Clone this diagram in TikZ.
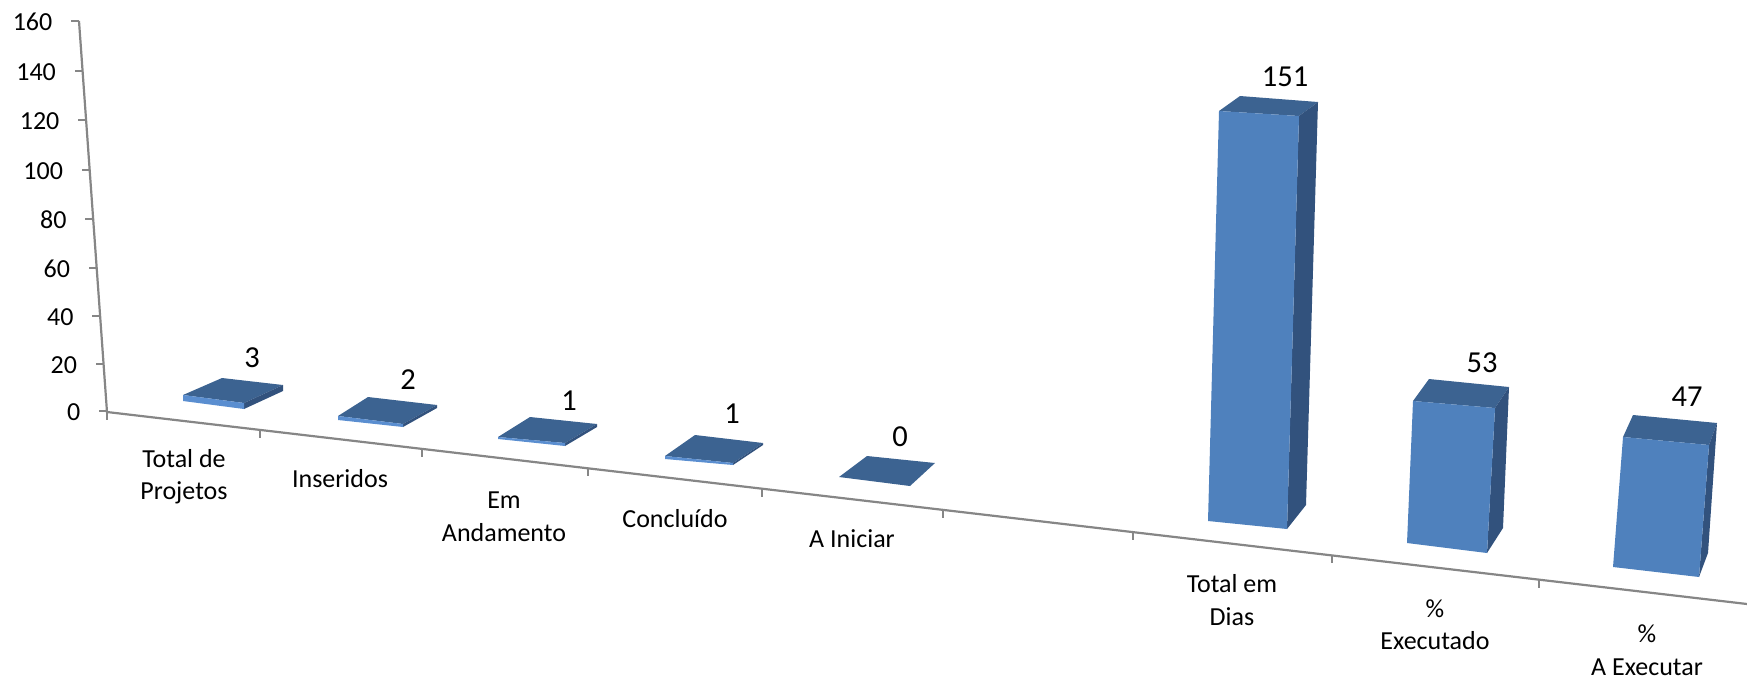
\documentclass[tikz,border=0pt]{standalone}
\usepackage{fontspec}
\setmainfont{Carlito}
\definecolor{frontc}{HTML}{4F81BD}
\definecolor{topc}{HTML}{3C6391}
\definecolor{sidec}{HTML}{32527D}
\definecolor{edgec}{HTML}{5A8ED0}
\definecolor{axisc}{HTML}{868686}
\newcommand{\barbox}[7]{%
  \fill[topc] #1 -- #5 -- #6 -- #2 -- cycle;
  \fill[sidec] #2 -- #6 -- #7 -- #3 -- cycle;
  \fill[frontc] #1 -- #2 -- #3 -- #4 -- cycle;}
\newcommand{\slabbox}[7]{%
  \fill[topc] #1 -- #5 -- #6 -- #2 -- cycle;
  \fill[sidec] #2 -- #6 -- #7 -- #3 -- cycle;
  \fill[edgec] #1 -- #2 -- #3 -- #4 -- cycle;}
\tikzset{
  axisline/.style={draw=axisc, line width=2.2pt},
  tickline/.style={draw=axisc, line width=1.6pt},
  catlab/.style={font=\fontsize{26}{31.7}\selectfont, anchor=base, inner sep=0pt},
  ylab/.style={font=\fontsize{26}{31.7}\selectfont, anchor=base east, inner sep=0pt},
  datalab/.style={font=\fontsize{30.5}{36}\selectfont, anchor=base, inner sep=0pt}
}
\begin{document}
\begin{tikzpicture}[x=1pt,y=-1pt]
\useasboundingbox (0,0) rectangle (1747,678);
% axes
\coordinate (ytop) at (79,21);
\coordinate (orig) at (107,412);
\coordinate (xend) at (1747,604);
\draw[axisline] (ytop) -- (orig) -- (xend);
% y ticks and labels
\foreach \v/\yy in {0/411,20/364,40/316,60/268,80/219,100/170,120/120,140/71,160/21}{
  \pgfmathsetmacro{\ax}{107-(411-\yy)*28/390}
  \coordinate (yt\v) at (\ax,\yy);
  \draw[tickline] (yt\v) -- ++(-8,0);
  \node[ylab] (yl\v) at ({\ax-26.5},{\yy+9.5}) {\v};
}
% x ticks
\foreach \xx [count=\i] in {107,260,422,588,762,943,1133,1332,1539}{
  \coordinate (xt\i) at (\xx,{412+(\xx-107)*0.11707});
  \draw[tickline] (xt\i) -- ++(0,8);
}
% slabs (small values)
\slabbox{(183,395)}{(244,403)}{(244,409)}{(183,401)}{(222,378)}{(283,385)}{(283,391)}
\slabbox{(338,416)}{(403,424)}{(403,427)}{(338,420)}{(368,397)}{(437,405)}{(437,408)}
\slabbox{(498,437)}{(565,443)}{(565,446)}{(498,439)}{(530,417)}{(597,424)}{(597,427)}
\slabbox{(665,456)}{(733,463)}{(733,465)}{(665,459)}{(695,435)}{(763,443)}{(763,445)}
\fill[topc] (839,477) -- (867,456) -- (935,463) -- (910,486) -- cycle;
% tall bars
\barbox{(1219,111)}{(1299,116)}{(1287,529)}{(1208,521)}{(1240,96)}{(1318,102)}{(1306,505)}
\barbox{(1413,401)}{(1495,408)}{(1487,553)}{(1407,543)}{(1429,379)}{(1509,387)}{(1503,528)}
\barbox{(1623,437)}{(1709,445)}{(1699,577)}{(1613,567)}{(1633,415)}{(1717,423)}{(1708,553)}
% data labels
\node[datalab] (d1) at (252,367) {3};
\node[datalab] (d2) at (408,389) {2};
\node[datalab] (d3) at (569,410) {1};
\node[datalab] (d4) at (732,423) {1};
\node[datalab] (d5) at (900,446) {0};
\node[datalab] (d7) at (1285,86) {151};
\node[datalab] (d8) at (1482,372) {53};
\node[datalab] (d9) at (1687,406) {47};
% category labels
\node[catlab] (c1a) at (184,467) {Total de};
\node[catlab] (c1b) at (184,499) {Projetos};
\node[catlab] (c2) at (340,487) {Inseridos};
\node[catlab] (c3a) at (504,508) {Em};
\node[catlab] (c3b) at (504,541) {Andamento};
\node[catlab] (c4) at (675,527) {Concluído};
\node[catlab] (c5) at (852,547) {A Iniciar};
\node[catlab] (c7a) at (1232,592) {Total em};
\node[catlab] (c7b) at (1232,625) {Dias};
\node[catlab] (c8a) at (1435,617) {\%};
\node[catlab] (c8b) at (1435,649) {Executado};
\node[catlab] (c9a) at (1647,642) {\%};
\node[catlab] (c9b) at (1647,675) {A Executar};
\end{tikzpicture}
\end{document}
